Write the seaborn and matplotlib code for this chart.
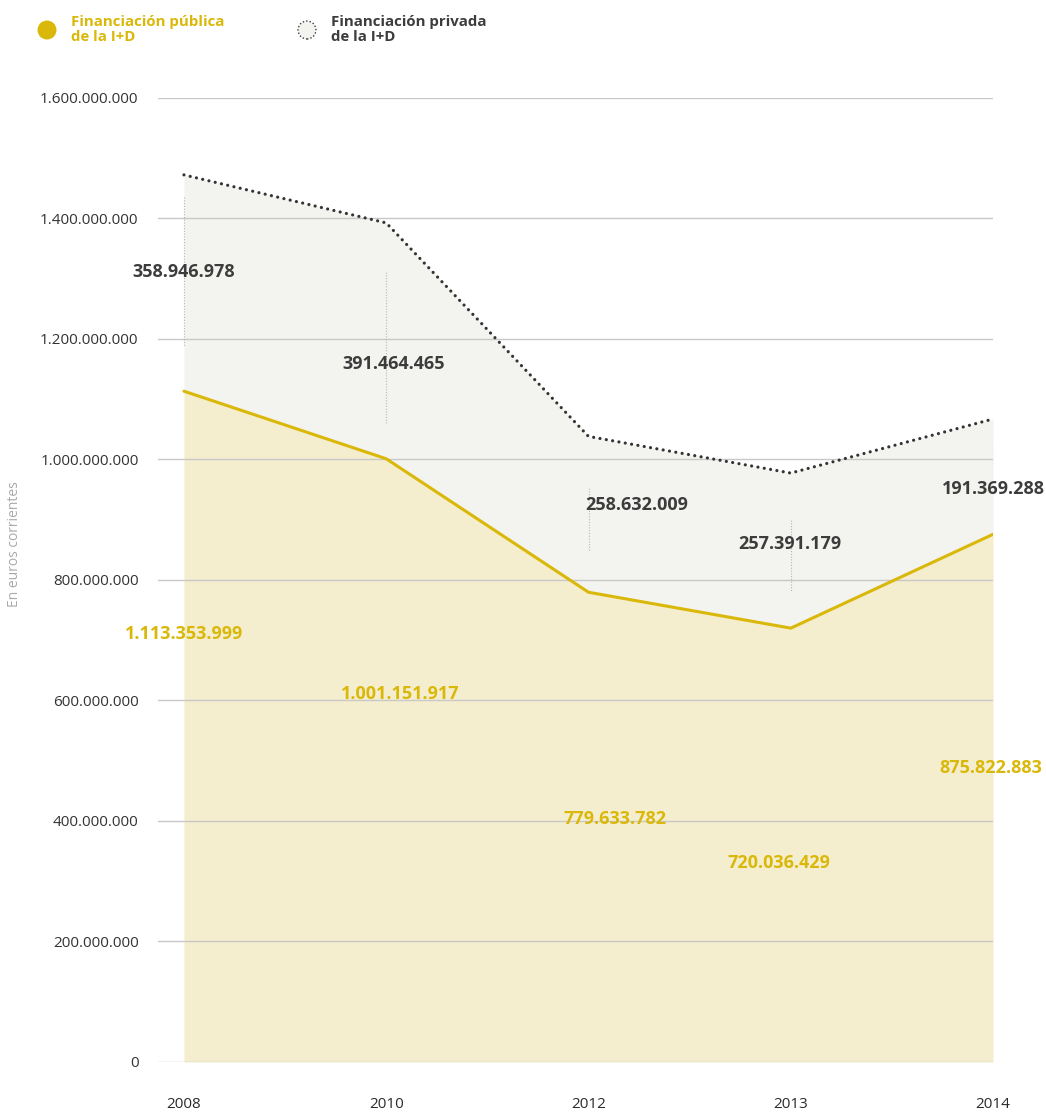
import pandas as pd
import matplotlib.pyplot as plt
import seaborn as sns
from matplotlib.patches import Circle

# Data (en euros corrientes)
years = ['2008', '2010', '2012', '2013', '2014']
publica = [1113353999, 1001151917, 779633782, 720036429, 875822883]
privada = [358946978, 391464465, 258632009, 257391179, 191369288]

yticks = [0, 200e6, 400e6, 600e6, 800e6, 1000e6, 1200e6, 1400e6, 1600e6]

def fmt(v):
    return f'{int(v):,}'.replace(',', '.')

df = pd.DataFrame({'year': years, 'publica': publica, 'privada': privada})
df['x'] = range(len(df))
df['total'] = df['publica'] + df['privada']

YELLOW = '#dab80a'
DARK = '#3c3c3c'

sns.set_style('white')
plt.rcParams['font.family'] = ['Open Sans', 'DejaVu Sans']

fig = plt.figure(figsize=(10.46, 11.14), dpi=100)
ax = fig.add_axes([0.1511, 0.04668, 0.7983, 0.8654])

# Areas
ax.fill_between(df['x'], 0, df['publica'], color='#f5eece', lw=0, zorder=1)
ax.fill_between(df['x'], df['publica'], df['total'], color='#f3f3ef', lw=0, zorder=1)

# Grid lines on top of fills
for t in yticks:
    ax.axhline(t, color='#c8c8c8', lw=1, zorder=2)

sns.lineplot(data=df, x='x', y='publica', color=YELLOW, lw=2.2, ax=ax, zorder=4)
sns.lineplot(data=df, x='x', y='total', color='#333333', lw=2.3, ax=ax, zorder=4,
             linestyle=(0, (0.01, 2.0)), dash_capstyle='round')

# Leader lines and labels (annotation layout)
lead = [(1.436e9, 1.187e9), (1.311e9, 1.061e9), (0.953e9, 0.848e9),
        (0.900e9, 0.780e9), (1.027e9, 0.966e9)]
priv_pos = [(0.0, 1.311e9), (0.035, 1.158e9), (0.24, 0.924e9), (-0.005, 0.860e9), (0.0, 0.951e9)]
pub_pos = [(0.0, 0.710e9), (0.07, 0.611e9), (0.13, 0.403e9), (-0.06, 0.330e9), (-0.01, 0.488e9)]

for i, row in df.iterrows():
    ax.plot([row['x'], row['x']], lead[i], color='#b5b5b5', lw=0.8,
            linestyle=(0, (1, 1.5)), zorder=3)
    dx, yy = priv_pos[i]
    ax.text(row['x'] + dx, yy, fmt(row['privada']), ha='center', va='center',
            fontsize=13, fontweight='bold', color=DARK, zorder=5)
    dx, yy = pub_pos[i]
    ax.text(row['x'] + dx, yy, fmt(row['publica']), ha='center', va='center',
            fontsize=13, fontweight='bold', color=YELLOW, zorder=5)

ax.set_xlim(-0.128, 4)
ax.set_ylim(0, 1.6e9)
ax.set_xticks(df['x'])
ax.set_xticklabels(years, fontsize=11, color='#2a2a2a')
ax.set_yticks(yticks)
ax.set_yticklabels([fmt(t) for t in yticks], fontsize=11, color='#333333')
ax.tick_params(axis='x', length=0, pad=25)
ax.tick_params(axis='y', length=0, pad=14)
ax.set_xlabel('')
ax.set_ylabel('')
for s in ax.spines.values():
    s.set_visible(False)
ax.patch.set_alpha(0)

fig.text(0.0143, 0.512, 'En euros corrientes', rotation=90, ha='center', va='center',
         fontsize=10, color='#aaaaaa')

# Legend
H = 11.14
fig.add_artist(Circle((0.47, H - 0.30), 0.095, transform=fig.dpi_scale_trans,
                      facecolor=YELLOW, edgecolor='none'))
fig.add_artist(Circle((3.07, H - 0.30), 0.09, transform=fig.dpi_scale_trans,
                      facecolor='#f3f3ef', edgecolor=DARK, lw=1, linestyle=(0, (1, 1.5))))
fig.text(0.71 / 10.46, 1 - 0.295 / H, 'Financiación pública\nde la I+D', ha='left', va='center',
         fontsize=10.8, fontweight='bold', color=YELLOW, linespacing=1.15)
fig.text(3.31 / 10.46, 1 - 0.295 / H, 'Financiación privada\nde la I+D', ha='left', va='center',
         fontsize=10.8, fontweight='bold', color=DARK, linespacing=1.15)

fig.savefig('out.png', dpi=100)
